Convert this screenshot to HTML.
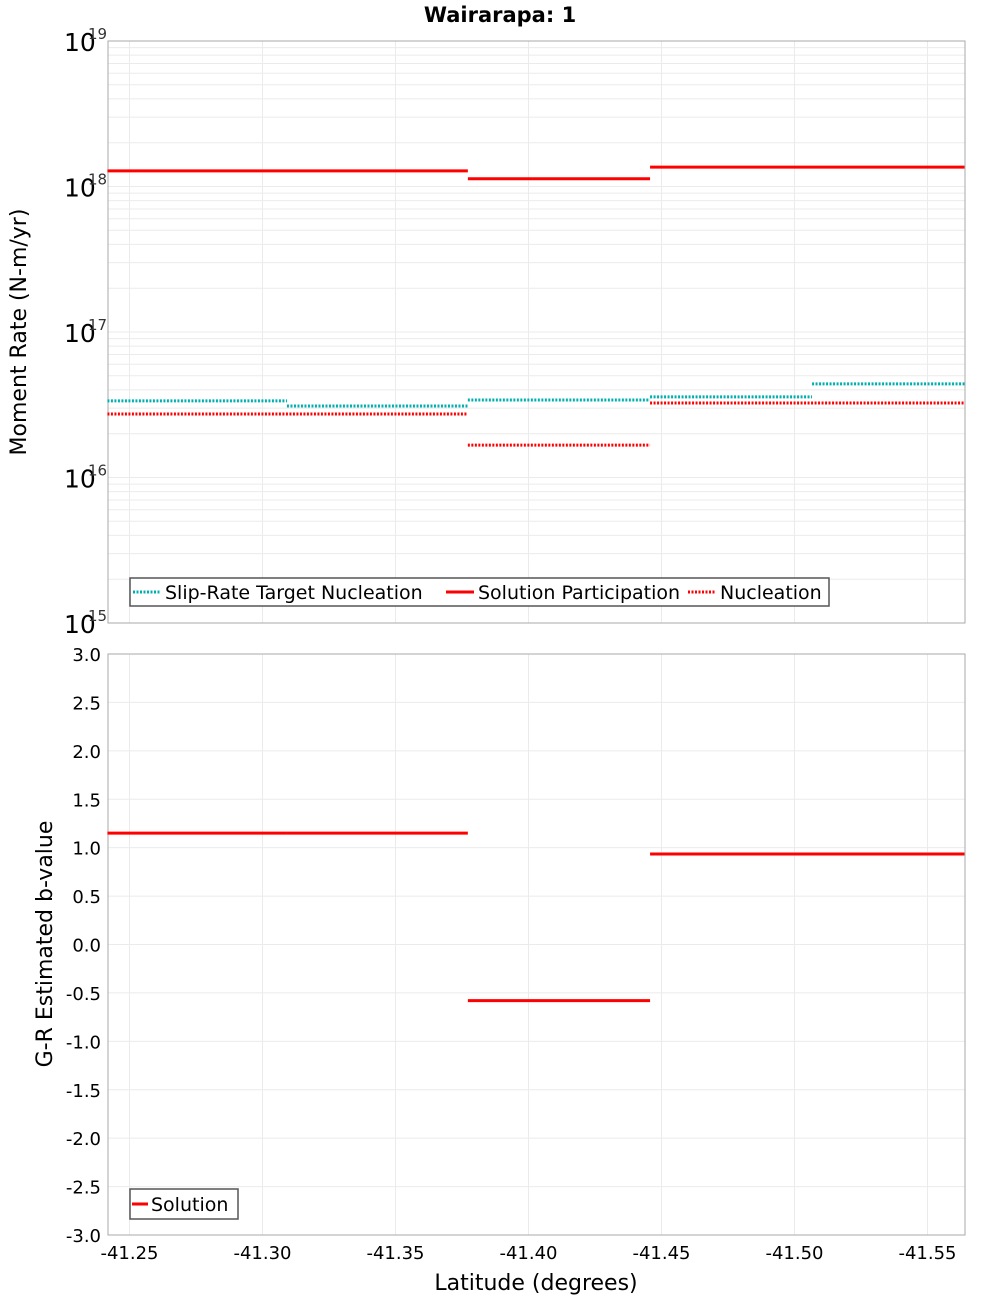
<!DOCTYPE html>
<html><head><meta charset="utf-8"><style>
body{margin:0;background:#fff;font-family:"Liberation Sans","DejaVu Sans",sans-serif}
svg text{font-family:"DejaVu Sans","Liberation Sans",sans-serif}
</style></head><body>
<svg id="c" width="1000" height="1300" xmlns="http://www.w3.org/2000/svg"></svg>
<script>
const sectionEdges=[-41.2417,-41.3092,-41.3772,-41.4457,-41.5066,-41.5639];
const slipTarget=[3.36e16,3.1e16,3.41e16,3.58e16,4.4e16];
const partEdges=[-41.2417,-41.3772,-41.4457,-41.5639];
const participation=[1.28e18,1.13e18,1.36e18];
const nucleation=[2.73e16,1.67e16,3.25e16];
const bEdges=[-41.2417,-41.3092,-41.3772,-41.4457,-41.5639];
const bValues=[1.15,1.15,-0.58,0.935];
const xTicks=[-41.25,-41.30,-41.35,-41.40,-41.45,-41.50,-41.55];
const yTicksB=[3,2.5,2,1.5,1,0.5,0,-0.5,-1,-1.5,-2,-2.5,-3];
const decades=[19,18,17,16,15];
const NS='http://www.w3.org/2000/svg',svg=document.getElementById('c');
function mk(t,a,p){const e=document.createElementNS(NS,t);for(const k in a)e.setAttribute(k,a[k]);(p||svg).appendChild(e);return e;}
const L=108,R=965,T1=41,B1=623,T2=654,B2=1235;
const X=v=>129.5+(-41.25-v)/0.05*133;
const Y1=v=>T1+(19-Math.log10(v))*(B1-T1)/4;
const Y2=v=>T2+(3-v)*(B2-T2)/6;
// title
let t=mk('text',{x:500,y:22,'text-anchor':'middle','font-size':21,'font-weight':'bold'});t.textContent='Wairarapa: 1';

// grids
for(let d=15;d<19;d++)for(let m=1;m<10;m++){const y=Y1(m*Math.pow(10,d));let g=mk('line',{x1:L,x2:R,y1:y,y2:y,stroke:'#ebebeb','stroke-width':1});}
yTicksB.forEach(v=>{const y=Y2(v);let g=mk('line',{x1:L,x2:R,y1:y,y2:y,stroke:'#ebebeb'});
let tx=mk('text',{x:101,y:y+7,'text-anchor':'end','font-size':18});tx.textContent=v.toFixed(1);});
xTicks.forEach(v=>{const x=X(v);[[T1,B1],[T2,B2]].forEach(([a,b])=>{let g=mk('line',{x1:x,x2:x,y1:a,y2:b,stroke:'#ebebeb'});});
let tx=mk('text',{x:x,y:1259,'text-anchor':'middle','font-size':18});tx.textContent=v.toFixed(2);});
decades.forEach(d=>{const y=Y1(Math.pow(10,d));let tx=mk('text',{x:64,y:y+10,'font-size':25});tx.textContent='10';
let s=mk('text',{x:88,y:y-2,'font-size':15,fill:'#333'});s.textContent=String(d);});
// frames
[[T1,B1],[T2,B2]].forEach(([a,b])=>{let r=mk('rect',{x:L,y:a,width:R-L,height:b-a,fill:'none',stroke:'#aaa'});});
// series
function seg(edges,vals,Y,col,dash,name){vals.forEach((v,i)=>{const a={x1:X(edges[i]),x2:X(edges[i+1]),y1:Y(v),y2:Y(v),stroke:col,'stroke-width':3};if(dash)a['stroke-dasharray']='2,1.5';let l=mk('line',a);});}
seg(sectionEdges,slipTarget,Y1,'#00b0b0',true,'slip-rate-target-segment');
seg(partEdges,nucleation,Y1,'#ff0000',true,'nucleation-segment');
seg(partEdges,participation,Y1,'#ff0000',false,'participation-segment');
seg(bEdges,bValues,Y2,'#ff0000',false,'b-value-segment');
// axis titles
let yt=mk('text',{x:26,y:332,'text-anchor':'middle','font-size':22,transform:'rotate(-90 26 332)'});yt.textContent='Moment Rate (N-m/yr)';
let yb=mk('text',{x:52,y:944,'text-anchor':'middle','font-size':22,transform:'rotate(-90 52 944)'});yb.textContent='G-R Estimated b-value';
let xt=mk('text',{x:536,y:1290,'text-anchor':'middle','font-size':22});xt.textContent='Latitude (degrees)';
// legends
let lg=mk('g',{});
mk('rect',{x:130,y:578,width:699,height:28,fill:'#fff',stroke:'#555','stroke-width':1.5},lg);
const items=[[133,'#00b0b0',true,'Slip-Rate Target Nucleation'],[446,'#ff0000',false,'Solution Participation'],[688,'#ff0000',true,'Nucleation']];
items.forEach(([x,c,d,txt])=>{const a={x1:x,x2:x+28,y1:592,y2:592,stroke:c,'stroke-width':3};if(d)a['stroke-dasharray']='2,1.5';mk('line',a,lg);
let e=mk('text',{x:x+32,y:599,'font-size':19},lg);e.textContent=txt;});
let lg2=mk('g',{});
mk('rect',{x:130,y:1189,width:108,height:30,fill:'#fff',stroke:'#555','stroke-width':1.5},lg2);
mk('line',{x1:132,x2:148,y1:1204,y2:1204,stroke:'#ff0000','stroke-width':3},lg2);
let e2=mk('text',{x:151,y:1211,'font-size':19},lg2);e2.textContent='Solution';
</script>
</body></html>
